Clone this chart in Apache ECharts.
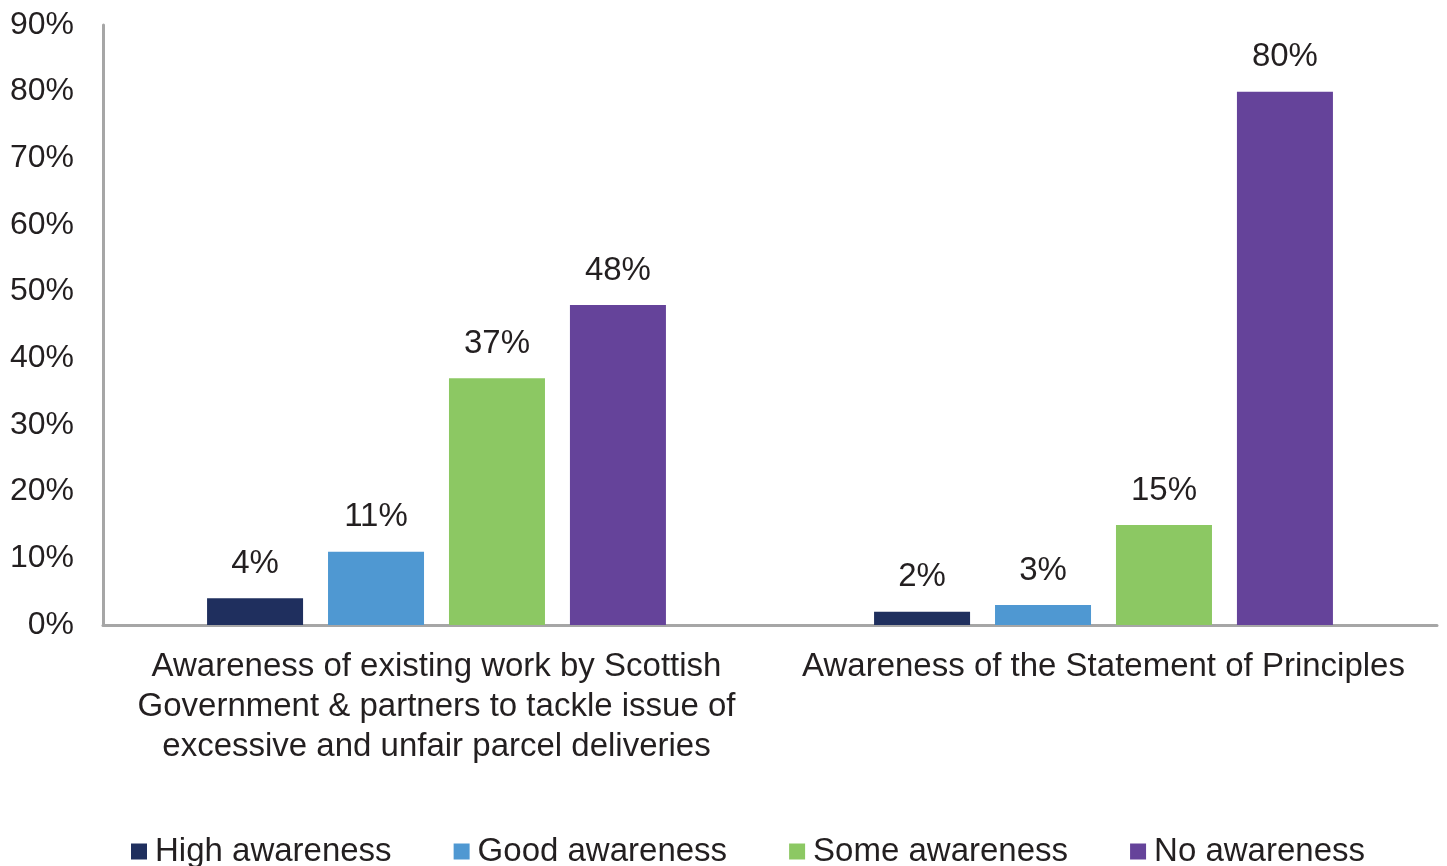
<!DOCTYPE html>
<html>
<head>
<meta charset="utf-8">
<script src="https://cdn.jsdelivr.net/npm/echarts@6/dist/echarts.min.js"></script>
<style>
  html, body { margin: 0; padding: 0; background: #fff; }
  #chart { width: 1447px; height: 866px; }
</style>
</head>
<body>
<div id="chart"></div>
<script>
// Survey topics (x axis)
const categories = [
  'Awareness of existing work by Scottish\nGovernment & partners to tackle issue of\nexcessive and unfair parcel deliveries',
  'Awareness of the Statement of Principles'
];

// Share of respondents per awareness level (%)
const highAwareness = [4, 2];
const goodAwareness = [11, 3];
const someAwareness = [37, 15];
const noAwareness = [48, 80];

const seriesNames = ['High awareness', 'Good awareness', 'Some awareness', 'No awareness'];
const seriesColors = ['#1F2F5E', '#4F98D2', '#8CC863', '#65439A'];
const seriesValues = [highAwareness, goodAwareness, someAwareness, noAwareness];

const FONT = 'Liberation Sans, Arial, sans-serif';
const TEXT = '#231F20';
const SIZE = 33;

const chart = echarts.init(document.getElementById('chart'), null, { renderer: 'canvas' });

chart.setOption({
  animation: false,
  backgroundColor: '#ffffff',
  textStyle: { fontFamily: FONT },
  grid: { left: 103, right: 10, top: 25, bottom: 241, containLabel: false },
  legend: {
    data: seriesNames,
    left: 131,
    top: 835,
    padding: 0,
    itemWidth: 16,
    itemHeight: 16,
    itemGap: 62,
    icon: 'rect',
    textStyle: { fontSize: SIZE, color: TEXT, fontFamily: FONT, padding: [0, 0, 0, 3] }
  },
  xAxis: {
    type: 'category',
    data: categories,
    axisLine: { show: true, lineStyle: { color: '#A6A6A6', width: 3 } },
    axisTick: { show: false },
    axisLabel: {
      fontSize: SIZE,
      color: TEXT,
      fontFamily: FONT,
      lineHeight: 40,
      margin: 22,
      interval: 0
    }
  },
  yAxis: {
    type: 'value',
    min: 0,
    max: 90,
    interval: 10,
    axisLine: { show: true, lineStyle: { color: '#A6A6A6', width: 3 } },
    axisTick: { show: false },
    splitLine: { show: false },
    axisLabel: {
      fontSize: 32,
      color: TEXT,
      fontFamily: FONT,
      margin: 29,
      formatter: '{value}%'
    }
  },
  series: seriesNames.map((name, i) => ({
    name: name,
    type: 'bar',
    data: seriesValues[i],
    barWidth: 96,
    barGap: '26%',
    itemStyle: { color: seriesColors[i] },
    label: {
      show: true,
      position: 'top',
      distance: 18,
      fontSize: SIZE,
      color: TEXT,
      fontFamily: FONT,
      formatter: '{c}%'
    }
  }))
});
</script>
</body>
</html>
